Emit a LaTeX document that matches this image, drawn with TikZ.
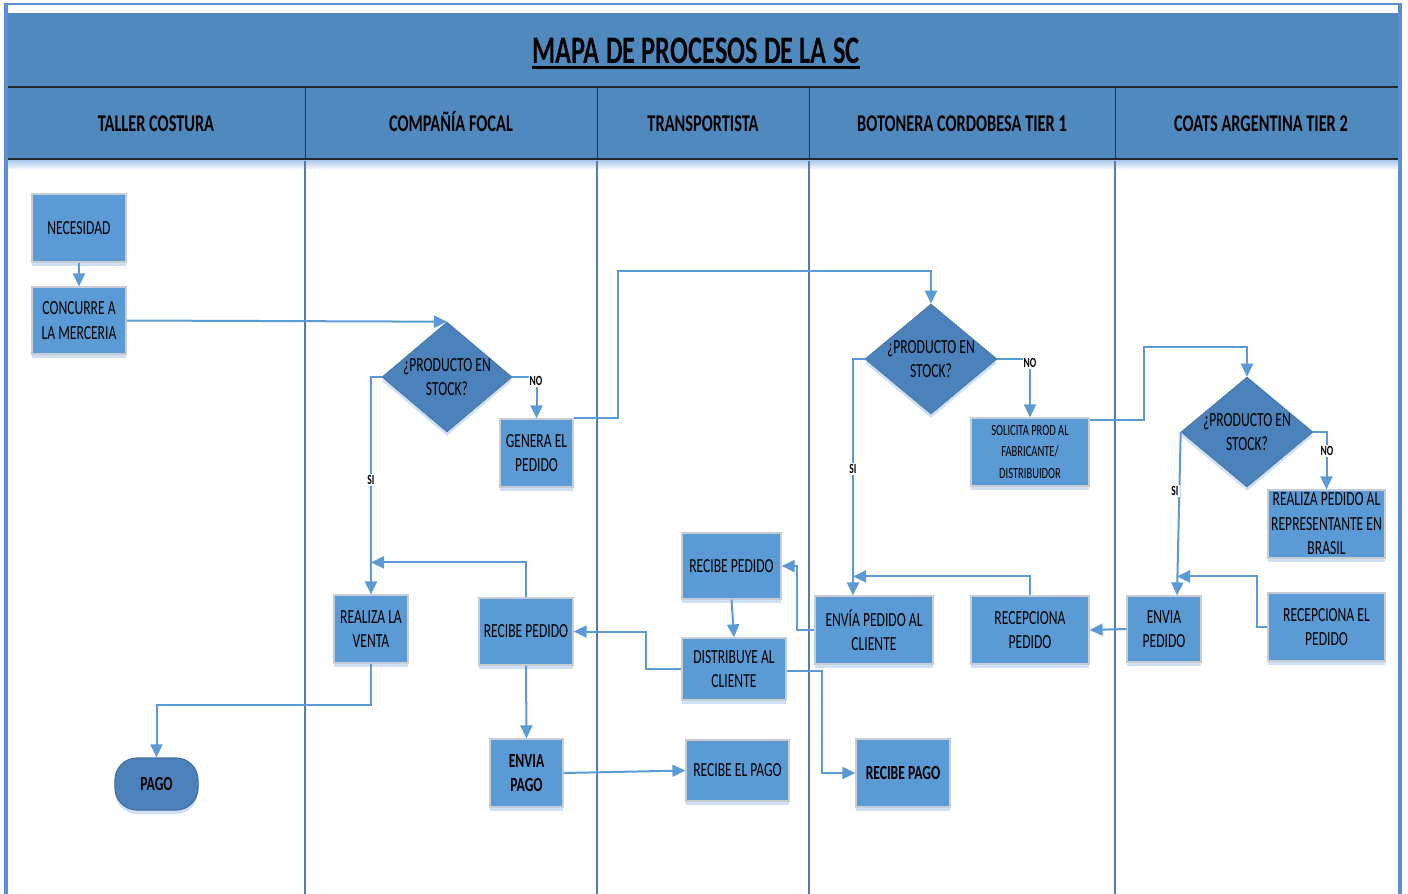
\documentclass[tikz,border=0pt]{standalone}
\usepackage{fontspec}
\setmainfont{Carlito}[FakeStretch=0.68]
\usetikzlibrary{arrows.meta,shapes.geometric,shadows}

\definecolor{frameblue}{RGB}{92,142,214}
\definecolor{headblue}{RGB}{80,137,189}
\definecolor{nodeblue}{RGB}{91,155,213}
\definecolor{decblue}{RGB}{76,130,188}
\definecolor{decedge}{RGB}{65,113,156}
\definecolor{lineblue}{RGB}{91,155,213}
\definecolor{laneblue}{RGB}{88,124,168}
\definecolor{boxedge}{RGB}{200,205,212}
\definecolor{glow}{RGB}{170,200,235}

\newcommand{\nfont}{\fontsize{20}{24.5}\selectfont}
\newcommand{\sfont}{\fontsize{15.5}{21.5}\selectfont}

\tikzset{
  box/.style={draw=boxedge, line width=1.2pt, fill=nodeblue, inner sep=0pt,
    align=center, font=\nfont, text=black,
    drop shadow={shadow xshift=0pt, shadow yshift=-4pt, fill=glow, opacity=0.55}},
  decision/.style={diamond, draw=decedge, line width=0.6pt, fill=decblue, inner sep=0pt,
    drop shadow={shadow xshift=0pt, shadow yshift=-4pt, fill=glow, opacity=0.55}},
  dtext/.style={align=center, font=\nfont, text=black, inner sep=0pt},
  terminal/.style={draw=decedge, line width=1.2pt, fill=decblue, rounded corners=22pt,
    inner sep=0pt, align=center, font=\bfseries\nfont, text=black,
    drop shadow={shadow xshift=0pt, shadow yshift=-4pt, fill=glow, opacity=0.55}},
  conn/.style={draw=lineblue, line width=2pt, -{Triangle[length=13pt,width=12pt]}},
  lbl/.style={fill=white, inner sep=1pt, text=black, font=\bfseries\fontsize{14}{14}\selectfont},
  lanehead/.style={anchor=base, inner sep=0pt, text=black, font=\bfseries\fontsize{24}{26}\selectfont},
}

\begin{document}
\begin{tikzpicture}[x=1pt, y=-1pt]
\useasboundingbox (0,0) rectangle (1408,894);

% outer frame and header band
\fill[frameblue] (4,3) rectangle (1402,894);
\fill[white] (8,5) rectangle (1398,894);
\fill[headblue] (8,13) rectangle (1398,160);
\shade[top color=glow, bottom color=white] (8,160) rectangle (1398,170);

% title
\node[anchor=base, inner sep=0pt, text=black, font=\bfseries\fontsize{39}{40}\selectfont] (title) at (696,63) {MAPA DE PROCESOS DE LA SC};
\draw[line width=3pt] ([yshift=-4.5pt]title.base west) -- ([yshift=-4.5pt]title.base east);

% lane header rules
\draw[line width=2.5pt, black!85] (8,87) -- (1398,87);
\draw[line width=2.5pt, black!85] (8,159) -- (1398,159);
\foreach \lx in {305,597,809,1115} {
  \draw[line width=1pt, black!80] (\lx,88) -- (\lx,158);
  \draw[line width=1.5pt, laneblue] (\lx,161) -- (\lx,894);
}

% lane titles
\node[lanehead] (h1) at (156,131) {TALLER COSTURA};
\node[lanehead] (h2) at (451,131) {COMPAÑÍA FOCAL};
\node[lanehead] (h3) at (703,131) {TRANSPORTISTA};
\node[lanehead] (h4) at (962,131) {BOTONERA CORDOBESA TIER 1};
\node[lanehead] (h5) at (1261,131) {COATS ARGENTINA TIER 2};

% process steps
\node[box, minimum width=94pt, minimum height=68pt] (nec) at (79,228) {NECESIDAD};
\node[box, minimum width=94pt, minimum height=67pt] (conc) at (79,320.5) {CONCURRE A\\LA MERCERIA};
\node[decision, minimum width=130pt, minimum height=110pt] (d1) at (447,377) {};
\node[dtext] at (d1.center) {¿PRODUCTO EN\\STOCK?};
\node[box, minimum width=73pt, minimum height=68pt] (gen) at (536.5,453) {GENERA EL\\PEDIDO};
\node[decision, minimum width=132pt, minimum height=110pt] (d2) at (931,359) {};
\node[dtext] at (d2.center) {¿PRODUCTO EN\\STOCK?};
\node[box, minimum width=118pt, minimum height=68pt, font=\sfont] (sol) at (1030,452) {SOLICITA PROD AL\\FABRICANTE/\\DISTRIBUIDOR};
\node[decision, minimum width=132pt, minimum height=110pt] (d3) at (1247,432) {};
\node[dtext] at (d3.center) {¿PRODUCTO EN\\STOCK?};
\node[box, minimum width=117pt, minimum height=68pt] (rep) at (1326.5,524) {REALIZA PEDIDO AL\\REPRESENTANTE EN\\BRASIL};
\node[box, minimum width=99pt, minimum height=66pt] (rp1) at (731.5,566) {RECIBE PEDIDO};
\node[box, minimum width=104pt, minimum height=62pt] (dist) at (734,669) {DISTRIBUYE AL\\CLIENTE};
\node[box, minimum width=74pt, minimum height=68pt] (venta) at (371,629) {REALIZA LA\\VENTA};
\node[box, minimum width=94pt, minimum height=67pt] (rp2) at (526,631.5) {RECIBE PEDIDO};
\node[box, minimum width=118pt, minimum height=68pt] (env1) at (874,630) {ENVÍA PEDIDO AL\\CLIENTE};
\node[box, minimum width=118pt, minimum height=68pt] (recp) at (1030,630) {RECEPCIONA\\PEDIDO};
\node[box, minimum width=74pt, minimum height=66pt] (envp) at (1164,629) {ENVIA\\PEDIDO};
\node[box, minimum width=117pt, minimum height=68pt] (recel) at (1326.5,627) {RECEPCIONA EL\\PEDIDO};
\node[terminal, minimum width=83pt, minimum height=52pt] (pago) at (156.5,784) {PAGO};
\node[box, minimum width=73pt, minimum height=68pt, font=\bfseries\nfont] (envpago) at (526.5,773) {ENVIA\\PAGO};
\node[box, minimum width=103pt, minimum height=61pt] (recpago) at (737.5,770.5) {RECIBE EL PAGO};
\node[box, minimum width=94pt, minimum height=68pt, font=\bfseries\nfont] (recpago2) at (903,773) {RECIBE PAGO};

% flow connectors
\draw[conn] (nec.south) -- (conc.north);
\draw[conn] (conc.east) -- (d1.north);
\draw[conn] (d1.east) -| (gen.north);
\draw[conn] (d1.west) -| (venta.north);
\draw[conn] (gen.north east) -- ++(44,0) |- ([yshift=33pt]d2.north) -- (d2.north);
\draw[conn] (d2.east) -| (sol.north);
\draw[conn] (d2.west) -| ([xshift=-21pt]env1.north);
\draw[conn] ([yshift=-3pt]sol.north east) -- ++(54,0) |- ([yshift=30pt]d3.north) -- (d3.north);
\draw[conn] (d3.east) -| (rep.north);
\draw[conn] (d3.west) -- ([xshift=13pt]envp.north);
\draw[conn] (recel.west) -- ++(-10,0) |- ([xshift=13pt,yshift=19pt]envp.north);
\draw[conn] (envp.west) -- (recp.east);
\draw[conn] (recp.north) |- ([xshift=-21pt,yshift=19pt]env1.north);
\draw[conn] (env1.west) -- ++(-17,0) |- (rp1.east);
\draw[conn] (rp1.south) -- (dist.north);
\draw[conn] (dist.west) -- ++(-35,0) |- (rp2.east);
\draw[conn] (rp2.north) |- ([yshift=32pt]venta.north);
\draw[conn] (venta.south) -- ++(0,41) -| (pago.north);
\draw[conn] (rp2.south) -- (envpago.north);
\draw[conn] (envpago.east) -- (recpago.west);
\draw[conn] ([yshift=-2pt]dist.east) -- ++(35,0) |- (recpago2.west);

% branch labels
\node[lbl] (no1) at (536,381) {NO};
\node[lbl] (si1) at (371,480) {SI};
\node[lbl] (no2) at (1030,363) {NO};
\node[lbl] (si2) at (853,469) {SI};
\node[lbl] (no3) at (1327,451) {NO};
\node[lbl] (si3) at (1175,491) {SI};
\end{tikzpicture}
\end{document}
